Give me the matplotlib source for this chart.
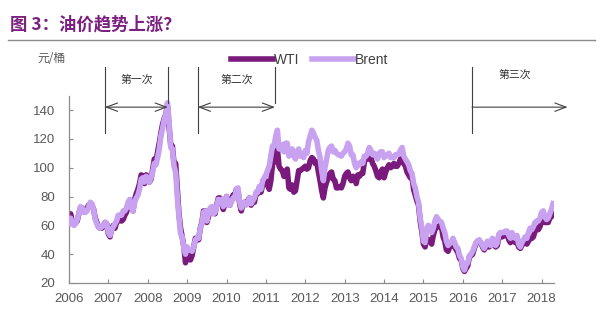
import numpy as np
import matplotlib
matplotlib.use('Agg')
import matplotlib.pyplot as plt
from matplotlib.patches import FancyArrowPatch
from matplotlib.lines import Line2D

plt.rcParams['font.family'] = ['Liberation Sans', 'Noto Sans CJK SC', 'DejaVu Sans']
CJK = ['Noto Sans CJK SC', 'DejaVu Sans']

# semi-monthly oil prices, USD/bbl, from Jan 2006 to Apr 2018
brent = [
    61, 65, 62, 60, 61, 64, 68, 73, 72, 69, 69, 70, 73, 76, 75, 71, 64, 61, 59, 58, 59, 60, 62, 61,   # 2006
    55, 53, 57, 59, 61, 63, 67, 67, 67, 70, 70, 72, 76, 78, 72, 70, 76, 79, 81, 85, 92, 93, 90, 94,   # 2007
    93, 90, 93, 97, 103, 102, 107, 113, 122, 127, 133, 137, 145, 132, 114, 113, 101, 97, 80, 66, 54, 52, 44, 40,  # 2008
    45, 43, 43, 42, 45, 50, 51, 51, 58, 61, 69, 70, 63, 68, 72, 73, 68, 69, 73, 78, 77, 78, 73, 77,   # 2009
    80, 74, 74, 76, 79, 79, 85, 86, 76, 72, 75, 76, 74, 76, 79, 75, 77, 79, 83, 83, 87, 85, 91, 93,   # 2010
    95, 98, 101, 108, 115, 115, 122, 126, 113, 113, 116, 111, 117, 117, 108, 110, 113, 108, 106, 111, 113, 108, 108, 107,  # 2011
    112, 110, 118, 122, 126, 124, 121, 119, 112, 107, 98, 91, 100, 106, 112, 114, 115, 111, 112, 110, 109, 109, 108, 110,  # 2012
    111, 113, 117, 115, 109, 109, 103, 100, 103, 102, 104, 103, 108, 108, 110, 114, 112, 109, 110, 108, 106, 110, 111, 111,  # 2013
    107, 108, 109, 110, 107, 107, 107, 109, 109, 110, 112, 114, 108, 106, 104, 102, 98, 96, 89, 86, 80, 76, 65, 59,  # 2014
    49, 48, 57, 60, 57, 55, 58, 63, 66, 64, 63, 62, 58, 55, 49, 46, 48, 48, 51, 48, 45, 44, 39, 37,   # 2015
    31, 29, 33, 34, 39, 40, 42, 45, 48, 49, 50, 48, 46, 44, 46, 49, 47, 46, 51, 50, 46, 48, 54, 55,   # 2016
    55, 55, 56, 56, 53, 51, 55, 52, 51, 53, 47, 45, 48, 50, 52, 51, 55, 58, 57, 59, 62, 63, 63, 65,   # 2017
    69, 70, 66, 64, 65, 68, 71, 75,                                                                  # 2018
]
wti = [
    64, 68, 62, 61, 62, 63, 68, 72, 72, 70, 70, 72, 74, 75, 74, 71, 65, 62, 59, 58, 58, 60, 62, 61,   # 2006
    54, 52, 58, 60, 58, 62, 63, 65, 63, 64, 67, 69, 73, 76, 73, 70, 78, 82, 85, 89, 95, 94, 89, 95,   # 2007
    94, 90, 92, 99, 106, 104, 111, 117, 124, 130, 134, 137, 143, 128, 116, 115, 103, 103, 85, 68, 58, 52, 45, 34,  # 2008
    40, 42, 36, 39, 45, 51, 50, 50, 58, 62, 70, 70, 62, 66, 71, 71, 69, 68, 74, 79, 79, 77, 71, 75,   # 2009
    80, 75, 74, 78, 81, 81, 85, 84, 75, 70, 75, 76, 75, 77, 79, 74, 76, 76, 82, 82, 86, 83, 88, 90,   # 2010
    91, 88, 85, 91, 102, 104, 108, 113, 101, 99, 98, 94, 97, 99, 86, 85, 88, 83, 84, 91, 98, 98, 99, 100,  # 2011
    101, 99, 100, 105, 107, 106, 103, 104, 97, 91, 84, 79, 86, 90, 93, 96, 97, 92, 91, 86, 86, 87, 86, 89,  # 2012
    94, 96, 97, 93, 91, 94, 93, 89, 95, 94, 96, 96, 104, 106, 106, 106, 107, 103, 101, 98, 94, 93, 97, 99,  # 2013
    93, 97, 100, 102, 100, 101, 103, 101, 101, 103, 106, 106, 103, 101, 97, 95, 93, 94, 85, 81, 77, 74, 63, 56,  # 2014
    47, 45, 51, 50, 49, 47, 53, 57, 59, 59, 60, 59, 52, 49, 43, 42, 45, 46, 47, 45, 43, 41, 37, 36,   # 2015
    30, 28, 30, 32, 38, 39, 40, 44, 47, 49, 49, 48, 45, 43, 45, 47, 45, 46, 50, 50, 45, 46, 52, 53,   # 2016
    52, 53, 53, 54, 50, 48, 52, 50, 48, 50, 45, 44, 46, 49, 48, 47, 49, 51, 51, 52, 56, 58, 57, 59,   # 2017
    63, 65, 62, 62, 62, 65, 66, 68,                                                                  # 2018
]
start_year = 2006
year_ticks = list(range(2006, 2019))
y_ticks = [20, 40, 60, 80, 100, 120, 140]

# episodes of rising prices: (start, end, label)
episodes = [(2006.91, 2008.51, '第一次'), (2009.27, 2011.23, '第二次'), (2016.23, None, '第三次')]

t = start_year + np.arange(len(brent)) / 24.0

fig = plt.figure(figsize=(6.0, 3.27), dpi=100)
ax = fig.add_axes([0.115, 0.1346, 0.808, 0.573])

wti_color = '#7A1A7C'
brent_color = '#C8A2F0'
ax.plot(t, wti, color=wti_color, lw=4.0, solid_joinstyle='round', label='WTI', zorder=2)
ax.plot(t, brent, color=brent_color, lw=4.0, solid_joinstyle='round', label='Brent', zorder=3)

ax.set_xlim(2006, 2018.31)
ax.set_ylim(20, 150)
ax.set_xticks(year_ticks)
ax.set_xticklabels([str(y) for y in year_ticks])
ax.set_yticks(y_ticks)
for s in ['top', 'right']:
    ax.spines[s].set_visible(False)
for s in ['left', 'bottom']:
    ax.spines[s].set_color('#8C8C8C')
    ax.spines[s].set_linewidth(0.9)
ax.tick_params(direction='in', length=3, width=0.8, color='#8C8C8C',
               labelsize=9.5, labelcolor='#595959')
ax.tick_params(axis='x', pad=7)
ax.tick_params(axis='y', pad=10)

# arrows marking the three rounds
line_kw = dict(color='#404040', lw=0.8, clip_on=False, zorder=4)
arrow_y = 142
for x0, x1, label in episodes:
    ax.plot([x0, x0], [124, 170], **line_kw)
    if x1 is not None:
        ax.plot([x1, x1], [145, 170], **line_kw)
        arr = FancyArrowPatch((x0, arrow_y), (x1, arrow_y),
                              arrowstyle='<->,head_length=0.8,head_width=0.3',
                              mutation_scale=10, color='#404040', lw=0.8,
                              shrinkA=0, shrinkB=0, clip_on=False, zorder=4)
        ax.text((x0 + x1) / 2, 160.5, label, ha='center', va='center',
                fontsize=7.8, family=CJK, color='#303030')
    else:
        arr = FancyArrowPatch((x0, arrow_y), (2018.66, arrow_y),
                              arrowstyle='->,head_length=0.8,head_width=0.3',
                              mutation_scale=10, color='#404040', lw=0.8,
                              shrinkA=0, shrinkB=0, clip_on=False, zorder=4)
        ax.text(2017.32, 163.7, label, ha='center', va='center',
                fontsize=7.8, family=CJK, color='#303030')
    ax.add_patch(arr)

# title and rule
fig.text(0.017, 0.924, '图 3：油价趋势上涨？', fontsize=12.5, fontweight='bold',
         color='#7B2080', family=CJK, ha='left', va='center')
fig.add_artist(Line2D([0.013, 0.992], [1 - 40 / 327, 1 - 40 / 327],
                      color='#8A8A8A', lw=1.0))

fig.text(0.062, 1 - 58 / 327, '元/桶', fontsize=8.5, color='#595959',
         family=CJK, ha='left', va='center')

ax.legend(loc='center left', bbox_to_anchor=(0.385, 1 - 60 / 327),
          bbox_transform=fig.transFigure, ncol=2, frameon=False,
          handlelength=3.0, handletextpad=0.1, columnspacing=0.9,
          borderpad=0, borderaxespad=0,
          prop={'family': 'Liberation Sans', 'size': 10}, labelcolor='#404040')

fig.savefig('out.png', dpi=100)
